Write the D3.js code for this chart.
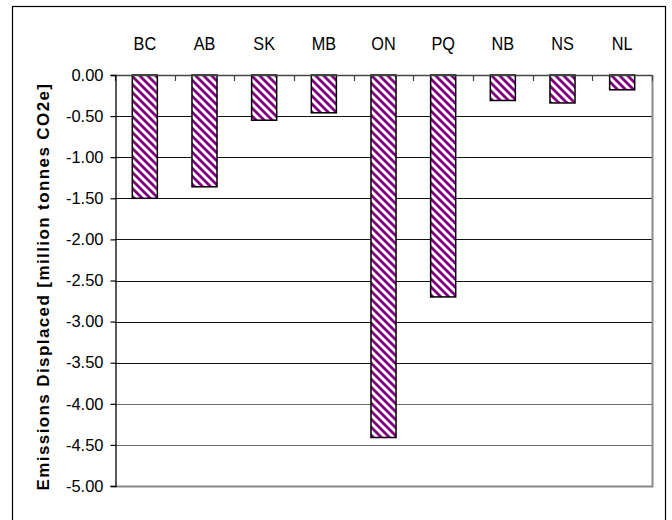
<!DOCTYPE html>
<html>
<head>
<meta charset="utf-8">
<script src="https://cdn.jsdelivr.net/npm/d3@7"></script>
<style>
  html, body { margin: 0; padding: 0; background: #fff; }
  svg { display: block; font-family: Arial, "Liberation Sans", sans-serif; }
</style>
</head>
<body>
<svg id="chart" width="672" height="520"></svg>
<script>
// Provinces and emissions displaced (million tonnes CO2e)
const provinces = ["BC", "AB", "SK", "MB", "ON", "PQ", "NB", "NS", "NL"];
const displaced = [-1.50, -1.36, -0.55, -0.46, -4.41, -2.70, -0.31, -0.34, -0.18];
const yTicks = [0, -0.5, -1, -1.5, -2, -2.5, -3, -3.5, -4, -4.5, -5];
const yTitle = "Emissions Displaced [million tonnes CO2e]";

const svg = d3.select("#chart");
const W = 672, H = 520;
const plot = { left: 115, top: 75, right: 652, bottom: 486 };

svg.append("rect").attr("width", W).attr("height", H).attr("fill", "#fff");

// Outer chart frame
svg.append("rect")
  .attr("x", 12.5).attr("y", 6.5)
  .attr("width", 653).attr("height", 530)
  .attr("fill", "none").attr("stroke", "#000").attr("stroke-width", 1.2);

// Diagonal hatch fill for the bars
const defs = svg.append("defs");
const pat = defs.append("pattern")
  .attr("id", "hatch")
  .attr("patternUnits", "userSpaceOnUse")
  .attr("width", 8).attr("height", 8);
pat.append("rect").attr("width", 8).attr("height", 8).attr("fill", "#fff");
pat.append("path")
  .attr("d", "M-1,-1 L9,9 M-3,5 L3,11 M5,-3 L11,3")
  .attr("stroke", "#800080").attr("stroke-width", 2.8);

const x = d3.scaleBand()
  .domain(provinces)
  .range([plot.left, plot.right])
  .paddingInner(0.58).paddingOuter(0.29);

const y = d3.scaleLinear()
  .domain([0, -5])
  .range([plot.top, plot.bottom]);

// Horizontal gridlines
svg.append("g")
  .selectAll("line")
  .data(yTicks.filter(d => d !== 0 && d !== -5))
  .join("line")
  .attr("x1", plot.left).attr("x2", plot.right)
  .attr("y1", d => Math.round(y(d)) + 0.5).attr("y2", d => Math.round(y(d)) + 0.5)
  .attr("stroke", d => d <= -3.75 ? "#6e6e6e" : "#111")
  .attr("stroke-width", 1.2);

// Plot area border (right and bottom)
svg.append("path")
  .attr("d", `M${plot.right + 0.5},${plot.top} V${plot.bottom + 0.5} H${plot.left}`)
  .attr("fill", "none").attr("stroke", "#8a8a8a").attr("stroke-width", 2);

// Bars
svg.append("g")
  .selectAll("rect")
  .data(provinces.map((p, i) => ({ p, v: displaced[i] })))
  .join("rect")
  .attr("x", d => x(d.p))
  .attr("y", y(0))
  .attr("width", x.bandwidth())
  .attr("height", d => y(d.v) - y(0))
  .attr("fill", "url(#hatch)")
  .attr("stroke", "#000").attr("stroke-width", 1.5);

// Category axis along zero, ticks pointing into the plot
const catAxis = svg.append("g");
catAxis.append("line")
  .attr("x1", plot.left).attr("x2", plot.right)
  .attr("y1", y(0) + 0.5).attr("y2", y(0) + 0.5)
  .attr("stroke", "#444").attr("stroke-width", 1.3);
const step = x.step();
catAxis.selectAll("line.tick")
  .data(d3.range(provinces.length + 1))
  .join("line").attr("class", "tick")
  .attr("x1", i => Math.round(plot.left + i * step) + 0.5)
  .attr("x2", i => Math.round(plot.left + i * step) + 0.5)
  .attr("y1", y(0)).attr("y2", y(0) + 6)
  .attr("stroke", "#444").attr("stroke-width", 1.2);
catAxis.selectAll("text")
  .data(provinces)
  .join("text")
  .attr("transform", d => `translate(${x(d) + x.bandwidth() / 2},50) scale(0.93,1)`)
  .attr("text-anchor", "middle")
  .attr("font-size", 17.5)
  .attr("fill", "#000")
  .text(d => d);

// Value axis (plain hyphen for negatives)
const fmt = d => d3.format(".2f")(d).replace("\u2212", "-");
const yAxis = d3.axisLeft(y)
  .tickValues(yTicks)
  .tickSize(5)
  .tickPadding(7)
  .tickFormat(fmt);
const yg = svg.append("g")
  .attr("transform", `translate(${plot.left + 0.5},0)`)
  .call(yAxis);
yg.select(".domain").attr("stroke", "#000").attr("stroke-width", 1.3);
yg.selectAll(".tick line").attr("stroke", "#000").attr("stroke-width", 1.2);
yg.selectAll(".tick text")
  .attr("font-size", 16.5)
  .attr("font-family", "Arial, 'Liberation Sans', sans-serif")
  .attr("fill", "#000");

// Value axis title
svg.append("text")
  .attr("transform", `translate(49,${(plot.top + plot.bottom) / 2 + 6}) rotate(-90)`)
  .attr("text-anchor", "middle")
  .attr("font-size", 17)
  .attr("font-weight", "bold")
  .attr("letter-spacing", 1.4)
  .attr("fill", "#000")
  .text(yTitle);
</script>
</body>
</html>
